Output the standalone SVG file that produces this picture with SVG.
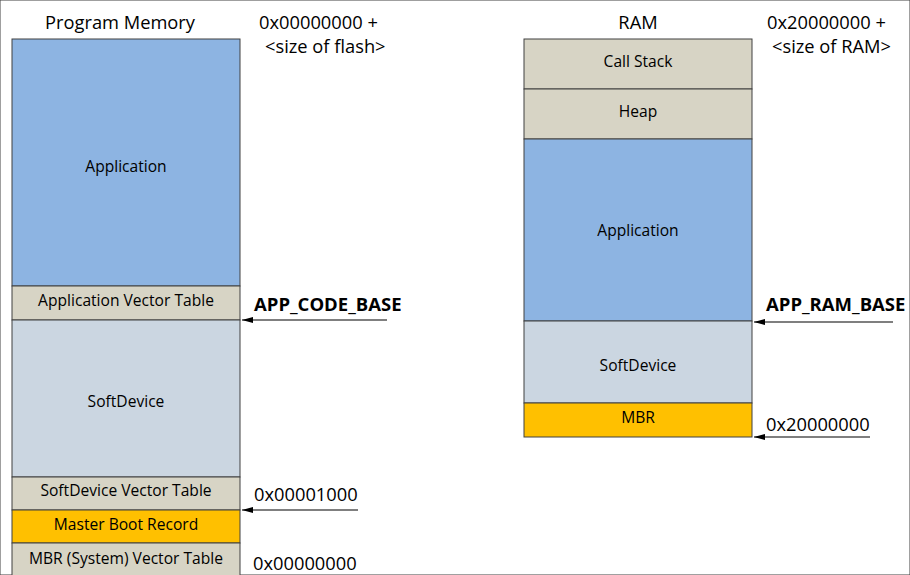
<svg xmlns="http://www.w3.org/2000/svg" width="910" height="575" viewBox="0 0 910 575">
<style>
text{font-family:"Open Sans","Liberation Sans",sans-serif;fill:#000}
.t{font-size:18.3px}
.l{font-size:15.6px;text-anchor:middle}
.b{font-size:18.5px;font-weight:bold}
rect{stroke:#404040;stroke-width:1}
.blue{fill:#8db4e2}.tan{fill:#d7d4c5}.sd{fill:#cbd6e1}.org{fill:#ffc000}
.c{stroke:#000;stroke-width:1.2;fill:none}
</style>
<defs>
<marker id="ah" markerWidth="12" markerHeight="8" refX="11" refY="4" orient="auto" markerUnits="userSpaceOnUse">
<path d="M0,1 L11,4 L0,7 Z" fill="#000"/>
</marker>
</defs>
<rect width="910" height="575" fill="#fff" stroke="none"/>
<text class="t" x="120" y="29" text-anchor="middle">Program Memory</text>
<text class="t" x="259" y="29">0x00000000 +</text>
<text class="t" x="265" y="53">&lt;size of flash&gt;</text>
<text class="t" x="638" y="29" text-anchor="middle">RAM</text>
<text class="t" x="767" y="29">0x20000000 +</text>
<text class="t" x="772" y="53">&lt;size of RAM&gt;</text>

<g id="pm-app"><rect class="blue" x="12" y="39" width="228" height="247"/><text class="l" x="126" y="172">Application</text></g>
<g id="pm-avt"><rect class="tan" x="12" y="286" width="228" height="34"/><text class="l" x="126" y="306">Application Vector Table</text></g>
<g id="pm-sd"><rect class="sd" x="12" y="320" width="228" height="157"/><text class="l" x="126" y="407">SoftDevice</text></g>
<g id="pm-sdvt"><rect class="tan" x="12" y="477" width="228" height="33"/><text class="l" x="126" y="496">SoftDevice Vector Table</text></g>
<g id="pm-mbr"><rect class="org" x="12" y="510" width="228" height="33"/><text class="l" x="126" y="530">Master Boot Record</text></g>
<g id="pm-mbrvt"><rect class="tan" x="12" y="543" width="228" height="40"/><text class="l" x="126" y="564">MBR (System) Vector Table</text></g>

<g id="ram-stack"><rect class="tan" x="524" y="39" width="228" height="50"/><text class="l" x="638" y="67">Call Stack</text></g>
<g id="ram-heap"><rect class="tan" x="524" y="89" width="228" height="50"/><text class="l" x="638" y="117">Heap</text></g>
<g id="ram-app"><rect class="blue" x="524" y="139" width="228" height="182"/><text class="l" x="638" y="236">Application</text></g>
<g id="ram-sd"><rect class="sd" x="524" y="321" width="228" height="82"/><text class="l" x="638" y="371">SoftDevice</text></g>
<g id="ram-mbr"><rect class="org" x="524" y="403" width="228" height="34"/><text class="l" x="638" y="423">MBR</text></g>

<g id="connectors">
<line class="c" x1="387" y1="320" x2="242" y2="320" marker-end="url(#ah)"/>
<line class="c" x1="358" y1="510" x2="242" y2="510" marker-end="url(#ah)"/>
<line class="c" x1="893" y1="322" x2="754" y2="322" marker-end="url(#ah)"/>
<line class="c" x1="870" y1="437" x2="754" y2="437" marker-end="url(#ah)"/>
</g>
<text class="b" x="254" y="311">APP_CODE_BASE</text>
<text class="t" x="254" y="501">0x00001000</text>
<text class="t" x="253" y="570">0x00000000</text>
<text class="b" x="766" y="311">APP_RAM_BASE</text>
<text class="t" x="766" y="431">0x20000000</text>
</svg>
